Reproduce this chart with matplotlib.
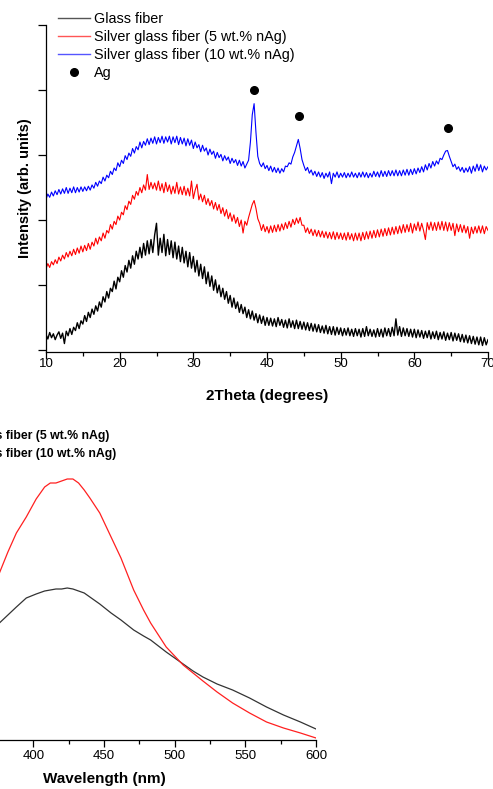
"""XRD patterns (top) and UV-vis absorbance (bottom) of glass / silver glass fibers."""
import numpy as np
import matplotlib
matplotlib.use("Agg")
import matplotlib.pyplot as plt
from matplotlib.ticker import MultipleLocator
from matplotlib.lines import Line2D

plt.rcParams["font.family"] = ["Liberation Sans", "DejaVu Sans"]

# --- XRD data (2theta scan 10-70 deg, 0.25 deg step, offset stacked) ---
two_theta = np.linspace(10, 70, 241)

xrd_glass = [
    0.24, 0.17, 0.27, 0.19, 0.25, 0.16, 0.23, 0.28,
    0.18, 0.26, 0.10, 0.29, 0.22, 0.33, 0.24, 0.35,
    0.30, 0.42, 0.33, 0.45, 0.40, 0.53, 0.44, 0.58,
    0.50, 0.63, 0.55, 0.68, 0.60, 0.74, 0.66, 0.82,
    0.74, 0.90, 0.80, 0.95, 0.90, 1.06, 0.94, 1.12,
    1.05, 1.22, 1.12, 1.30, 1.20, 1.38, 1.26, 1.45,
    1.32, 1.52, 1.40, 1.58, 1.42, 1.64, 1.46, 1.68,
    1.48, 1.70, 1.50, 1.77, 1.95, 1.46, 1.72, 1.50,
    1.78, 1.45, 1.70, 1.47, 1.68, 1.42, 1.66, 1.40,
    1.60, 1.36, 1.58, 1.34, 1.52, 1.28, 1.50, 1.26,
    1.44, 1.20, 1.38, 1.14, 1.32, 1.10, 1.28, 1.02,
    1.20, 0.98, 1.14, 0.92, 1.08, 0.88, 1.00, 0.82,
    0.95, 0.78, 0.90, 0.72, 0.84, 0.66, 0.80, 0.64,
    0.74, 0.58, 0.70, 0.56, 0.66, 0.50, 0.62, 0.48,
    0.60, 0.46, 0.56, 0.42, 0.54, 0.41, 0.52, 0.38,
    0.50, 0.38, 0.49, 0.37, 0.48, 0.36, 0.50, 0.38,
    0.47, 0.35, 0.46, 0.34, 0.48, 0.35, 0.45, 0.33,
    0.46, 0.33, 0.44, 0.32, 0.43, 0.31, 0.42, 0.30,
    0.41, 0.29, 0.40, 0.28, 0.39, 0.27, 0.37, 0.26,
    0.38, 0.25, 0.36, 0.24, 0.36, 0.23, 0.35, 0.24,
    0.34, 0.22, 0.33, 0.23, 0.34, 0.22, 0.32, 0.21,
    0.33, 0.22, 0.32, 0.20, 0.33, 0.21, 0.36, 0.22,
    0.32, 0.21, 0.31, 0.20, 0.33, 0.21, 0.32, 0.20,
    0.34, 0.22, 0.33, 0.21, 0.35, 0.22, 0.48, 0.23,
    0.36, 0.21, 0.34, 0.22, 0.33, 0.21, 0.32, 0.20,
    0.32, 0.19, 0.31, 0.20, 0.30, 0.18, 0.29, 0.19,
    0.30, 0.17, 0.28, 0.18, 0.29, 0.16, 0.27, 0.17,
    0.28, 0.15, 0.26, 0.16, 0.27, 0.14, 0.26, 0.15,
    0.25, 0.13, 0.24, 0.12, 0.23, 0.11, 0.22, 0.10,
    0.21, 0.09, 0.20, 0.08, 0.20, 0.07, 0.19, 0.08,
    0.16,
]

xrd_ag5 = [
    1.25, 1.33, 1.27, 1.36, 1.31, 1.39, 1.33, 1.43,
    1.37, 1.46, 1.40, 1.50, 1.43, 1.52, 1.45, 1.55,
    1.47, 1.57, 1.49, 1.60, 1.51, 1.61, 1.53, 1.64,
    1.55, 1.66, 1.60, 1.72, 1.63, 1.74, 1.68, 1.80,
    1.72, 1.84, 1.80, 1.93, 1.86, 1.98, 1.93, 2.06,
    2.00, 2.12, 2.08, 2.22, 2.16, 2.29, 2.24, 2.38,
    2.32, 2.44, 2.38, 2.50, 2.42, 2.54, 2.46, 2.70,
    2.47, 2.58, 2.48, 2.57, 2.46, 2.60, 2.45, 2.56,
    2.42, 2.58, 2.44, 2.54, 2.40, 2.52, 2.41, 2.58,
    2.40, 2.51, 2.39, 2.52, 2.38, 2.49, 2.37, 2.60,
    2.33, 2.46, 2.55, 2.31, 2.40, 2.28, 2.38, 2.24,
    2.33, 2.22, 2.30, 2.17, 2.27, 2.15, 2.24, 2.10,
    2.19, 2.06, 2.16, 2.02, 2.11, 1.98, 2.08, 1.95,
    2.04, 1.90, 2.00, 1.80, 1.98, 1.92, 2.04, 2.14,
    2.24, 2.30, 2.18, 2.02, 1.95, 1.84, 1.93, 1.82,
    1.90, 1.80, 1.91, 1.81, 1.92, 1.82, 1.93, 1.83,
    1.94, 1.85, 1.96, 1.87, 1.98, 1.89, 2.01, 1.93,
    2.03, 1.95, 2.04, 1.92, 1.92, 1.81, 1.88, 1.79,
    1.86, 1.76, 1.85, 1.75, 1.84, 1.74, 1.83, 1.73,
    1.82, 1.72, 1.81, 1.71, 1.82, 1.70, 1.81, 1.71,
    1.80, 1.70, 1.80, 1.69, 1.81, 1.70, 1.79, 1.68,
    1.80, 1.69, 1.80, 1.68, 1.81, 1.70, 1.82, 1.71,
    1.83, 1.72, 1.84, 1.73, 1.85, 1.74, 1.86, 1.75,
    1.87, 1.76, 1.88, 1.77, 1.89, 1.78, 1.90, 1.79,
    1.91, 1.80, 1.93, 1.81, 1.93, 1.82, 1.95, 1.80,
    1.94, 1.84, 1.97, 1.83, 1.95, 1.84, 1.70, 1.96,
    1.85, 1.97, 1.84, 1.96, 1.84, 1.97, 1.85, 1.98,
    1.84, 1.97, 1.83, 1.96, 1.84, 1.95, 1.76, 1.94,
    1.82, 1.93, 1.81, 1.92, 1.80, 1.90, 1.72, 1.89,
    1.79, 1.90, 1.80, 1.91, 1.80, 1.91, 1.79, 1.90,
    1.84,
]

xrd_ag10 = [
    2.32, 2.40, 2.35, 2.43, 2.37, 2.45, 2.39, 2.47,
    2.40, 2.48, 2.41, 2.50, 2.41, 2.49, 2.42, 2.51,
    2.42, 2.50, 2.43, 2.51, 2.44, 2.51, 2.45, 2.52,
    2.46, 2.54, 2.49, 2.58, 2.52, 2.60, 2.56, 2.66,
    2.60, 2.69, 2.65, 2.75, 2.70, 2.80, 2.76, 2.88,
    2.82, 2.92, 2.87, 2.99, 2.93, 3.03, 2.98, 3.10,
    3.03, 3.13, 3.08, 3.20, 3.11, 3.21, 3.15, 3.25,
    3.16, 3.26, 3.18, 3.28, 3.17, 3.27, 3.19, 3.29,
    3.18, 3.28, 3.20, 3.29, 3.17, 3.28, 3.19, 3.29,
    3.16, 3.27, 3.17, 3.26, 3.14, 3.25, 3.15, 3.23,
    3.10, 3.20, 3.11, 3.16, 3.05, 3.15, 3.06, 3.11,
    3.00, 3.09, 3.01, 3.06, 2.95, 3.04, 2.96, 3.01,
    2.91, 2.99, 2.92, 2.97, 2.87, 2.95, 2.88, 2.93,
    2.84, 2.92, 2.83, 2.90, 2.80, 2.86, 2.92, 3.20,
    3.62, 3.79, 3.35, 2.98, 2.87, 2.82, 2.88, 2.79,
    2.84, 2.76, 2.83, 2.74, 2.81, 2.73, 2.80, 2.72,
    2.79, 2.74, 2.83, 2.82, 2.88, 2.86, 2.97, 3.04,
    3.14, 3.24, 3.10, 2.93, 2.84, 2.76, 2.81, 2.72,
    2.77, 2.69, 2.75, 2.67, 2.74, 2.66, 2.73, 2.64,
    2.72, 2.66, 2.74, 2.56, 2.72, 2.66, 2.74, 2.65,
    2.72, 2.66, 2.73, 2.65, 2.72, 2.66, 2.74, 2.66,
    2.72, 2.65, 2.73, 2.66, 2.74, 2.66, 2.73, 2.65,
    2.72, 2.66, 2.75, 2.67, 2.74, 2.66, 2.76, 2.67,
    2.75, 2.67, 2.76, 2.68, 2.76, 2.68, 2.77, 2.68,
    2.76, 2.68, 2.77, 2.69, 2.78, 2.69, 2.78, 2.70,
    2.79, 2.71, 2.80, 2.73, 2.82, 2.74, 2.85, 2.77,
    2.87, 2.80, 2.90, 2.83, 2.91, 2.86, 2.95, 2.93,
    3.00, 3.06, 3.07, 2.98, 2.90, 2.82, 2.86, 2.78,
    2.82, 2.75, 2.81, 2.73, 2.80, 2.74, 2.82, 2.72,
    2.83, 2.75, 2.86, 2.76, 2.85, 2.74, 2.83, 2.77,
    2.82,
]

ag_peak_pos = [38.2, 44.4, 64.6]
ag_peak_mark = [4.00, 3.60, 3.42]

# --- UV-vis absorbance ---
wavelength_nm = [370, 376, 382, 388, 395, 402, 408, 412, 416, 420, 424, 428,
                 432, 436, 440, 447, 455, 462, 471, 478, 483, 494, 506, 513,
                 520, 530, 541, 553, 565, 577, 589, 600]
abs_glass = [1.08, 1.17, 1.25, 1.33, 1.42, 1.46, 1.49, 1.50, 1.51, 1.51, 1.52, 1.51,
             1.49, 1.47, 1.43, 1.36, 1.27, 1.20, 1.10, 1.04, 1.00, 0.88, 0.76, 0.69,
             0.63, 0.56, 0.50, 0.42, 0.33, 0.25, 0.18, 0.11]
abs_ag5 = [1.47, 1.67, 1.88, 2.07, 2.23, 2.41, 2.53, 2.57, 2.57, 2.59, 2.61, 2.61,
           2.57, 2.50, 2.42, 2.27, 2.03, 1.82, 1.50, 1.30, 1.17, 0.93, 0.75, 0.67,
           0.59, 0.48, 0.37, 0.27, 0.18, 0.12, 0.07, 0.02]

labels = ["Glass fiber", "Silver glass fiber (5 wt.% nAg)",
          "Silver glass fiber (10 wt.% nAg)"]

W, H = 493, 789
fig = plt.figure(figsize=(W / 100, H / 100), dpi=100)


def style_axes(ax, pad):
    for s in ("top", "right"):
        ax.spines[s].set_visible(False)
    for s in ("left", "bottom"):
        ax.spines[s].set_linewidth(0.9)
    ax.tick_params(which="major", direction="out", length=5, width=0.9,
                   labelsize=9.5, pad=pad)
    ax.tick_params(which="minor", direction="out", length=3, width=0.9)


# --- top panel: XRD ---
ax1 = fig.add_axes([46 / W, 1 - 352 / H, 442 / W, 327 / H])
ax1.plot(two_theta, xrd_glass, color="black", lw=1.0)
ax1.plot(two_theta, xrd_ag5, color="#ff0000", lw=0.8)
ax1.plot(two_theta, xrd_ag10, color="#0000ff", lw=0.8)
ax1.plot(ag_peak_pos, ag_peak_mark, "o", color="black", ms=5.5, ls="none")
ax1.set_xlim(10, 70)
ax1.set_ylim(-0.03, 5.0)
ax1.set_yticks(range(6))
ax1.set_yticklabels([])
ax1.xaxis.set_major_locator(MultipleLocator(10))
ax1.xaxis.set_minor_locator(MultipleLocator(5))
style_axes(ax1, pad=-1)
ax1.tick_params(axis="y", length=6)
ax1.set_xlabel("2Theta (degrees)", fontsize=11, fontweight="bold", labelpad=14)
ax1.set_ylabel("Intensity (arb. units)", fontsize=10.5, fontweight="bold", labelpad=4)

handles = [Line2D([], [], color="#555555", lw=1.0),
           Line2D([], [], color="#ff5555", lw=1.0),
           Line2D([], [], color="#5555ff", lw=1.0),
           Line2D([], [], marker="o", color="black", ms=5.5, ls="none")]
ax1.legend(handles, labels + ["Ag"], loc="upper left", frameon=False,
           bbox_to_anchor=(58 / W, 1 - 12 / H), bbox_transform=fig.transFigure,
           borderpad=0, borderaxespad=0, fontsize=10.4, handlelength=2.2,
           handletextpad=0.3, labelspacing=0.28)

# --- bottom panel: UV-vis (left part cropped) ---
ax2 = fig.add_axes([-108 / W, 1 - 740 / H, 424 / W, 335 / H])
l_glass, = ax2.plot(wavelength_nm, abs_glass, color="#333333", lw=0.9)
l_ag5, = ax2.plot(wavelength_nm, abs_ag5, color="#ff2020", lw=0.9)
l_ag10 = Line2D([], [], color="#2020ff", lw=0.9)
ax2.set_xlim(300, 600)
ax2.set_ylim(0, 3.35)
ax2.xaxis.set_major_locator(MultipleLocator(50))
ax2.xaxis.set_minor_locator(MultipleLocator(25))
style_axes(ax2, pad=2.5)
ax2.set_xlabel("Wavelength (nm)", fontsize=11, fontweight="bold", labelpad=7)
ax2.legend([l_glass, l_ag5, l_ag10], labels, loc="upper left", frameon=False,
           bbox_to_anchor=(-97 / W, 1 - 413 / H), bbox_transform=fig.transFigure,
           borderpad=0, borderaxespad=0, handlelength=2.0, handletextpad=0.5,
           labelspacing=0.45, prop={"size": 8.8, "weight": "bold"})

fig.savefig("out.png", dpi=100)
